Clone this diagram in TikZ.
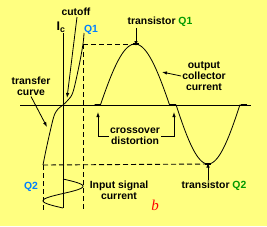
\documentclass[tikz,border=0pt]{standalone}
\usepackage{fontspec}
\setmainfont{Liberation Sans}
\newfontfamily\figserif{Liberation Serif}
\usetikzlibrary{arrows.meta}
\definecolor{SigBack}{HTML}{FFFF80}
\definecolor{SigBlue}{HTML}{0080FF}
\definecolor{SigGreen}{HTML}{009900}
\definecolor{SigRed}{HTML}{FF0000}

\begin{document}
\begin{tikzpicture}[x=1pt,y=-1pt,
  lbl/.style={font=\fontsize{10.4}{11}\selectfont\bfseries,inner sep=1pt,align=center},
  dashln/.style={dash pattern=on 5pt off 3pt,line width=0.9pt},
  arr/.style={-{Latex[length=5pt,width=3.5pt]},line width=0.8pt},
  curve/.style={line width=0.8pt},
  blob/.style={line width=2pt},
  declare function={dz(\s)=(\s>0.14)*(\s-0.14)/0.86;}]
\fill[SigBack] (0,0) rectangle (267,226);
\path[use as bounding box] (0,0) rectangle (267,226);
% axes
\draw[line width=0.9pt] (20,105) -- (251,105);
\draw[line width=0.9pt] (63,33) -- (63,208);
% working points
\coordinate (q1) at (83,44);
\coordinate (q2) at (43,165);
\coordinate (peak) at (136,44);
\coordinate (trough) at (208,164);
\draw[dashln] (q1) -- (peak);
\draw[dashln] (q1) -- (83,210);
\draw[dashln] (q2) -- (trough);
\draw[dashln] (q2) -- (43,210);
% transfer curve
\draw[curve] plot[smooth,tension=0.55] coordinates {(84,33) (q1) (79,66) (73,92) (68,100) (63,105) (58,109) (54,116) (50,132) (46,150) (q2)};
% output collector current
\draw[curve] (94,105) -- (97,105)
  plot[domain=0:180,samples=90] ({97+\x/180*76},{105-61*dz(sin(\x))})
  plot[domain=180:360,samples=90] ({173+(\x-180)/180*70},{105+59*dz(-sin(\x))})
  -- (247,105);
\draw[blob] (95,104.5) -- (101,104.5);
\draw[blob] (170,104.5) -- (176,104.5);
\draw[blob] (241,104.5) -- (247,104.5);
\draw[blob] (133,44) -- (139,44);
\draw[blob] (205,164) -- (211,164);
% input signal current
\draw[curve] plot[domain=0:360,samples=80] ({63+20*sin(\x)},{179+29*\x/360});
% labels
\node[lbl] (cutoff) at (76,12) {cutoff};
\node[lbl,font=\fontsize{12.5}{12}\selectfont\bfseries] (ic) at (61,27) {I\textsubscript{c}};
\node[lbl,text=SigBlue] (q1lbl) at (91,30) {Q1};
\node[lbl] (tq1) at (160,22) {transistor \textcolor{SigGreen}{Q1}};
\node[lbl] (output) at (204,76) {output\\collector\\current};
\node[lbl] (transfer) at (31,86) {transfer\\curve};
\node[lbl] (xover) at (135,136.5) {crossover\\distortion};
\node[lbl,text=SigBlue] (q2lbl) at (31,187) {Q2};
\node[lbl] (input) at (119,190) {Input signal\\current};
\node[lbl] (tq2) at (214,186) {transistor \textcolor{SigGreen}{Q2}};
\node[font=\fontsize{15}{15}\selectfont\figserif\itshape,text=SigRed,inner sep=0pt] (blbl) at (155,205) {b};
% arrows
\coordinate (cutend) at (67,98);
\coordinate (trend) at (47,127);
\coordinate (outend) at (162,72);
\coordinate (xl) at (98,112);
\coordinate (xr) at (174,112);
\draw[arr] (cutoff.south) ++(1,0) -- (cutend);
\draw[arr] (transfer.south) -- (trend);
\draw[arr] (tq1.south -| peak) -- ([yshift=-2pt]peak);
\draw[arr] (output.west) -- (outend);
\draw[arr] (xover.west) -| (xl);
\draw[arr] (xover.east) -| (xr);
\draw[arr] (tq2.north -| trough) -- ([yshift=1.5pt]trough);
\end{tikzpicture}
\end{document}
